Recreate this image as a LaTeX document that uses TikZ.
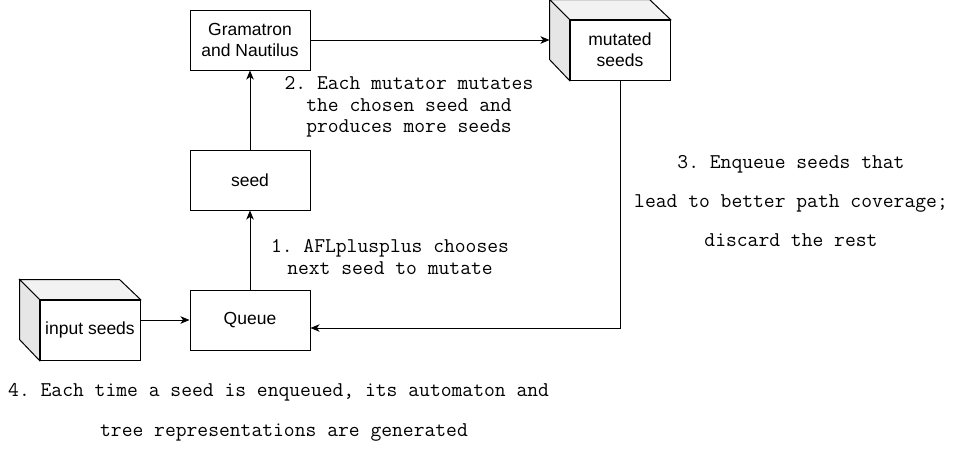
\documentclass[tikz,border=0pt]{standalone}
\usepackage{fontspec}
\setmainfont{Liberation Sans}
\usetikzlibrary{arrows.meta}
\definecolor{topgray}{HTML}{F2F2F2}
\definecolor{sidegray}{HTML}{E6E6E6}
\frenchspacing
\begin{document}
\begin{tikzpicture}[x=1pt,y=-1pt,
  box/.style={draw,line width=1pt,minimum width=120pt,minimum height=60pt,inner sep=0pt,align=center,font=\fontsize{17.5}{21}\selectfont},
  face/.style={draw,line width=1pt,minimum width=100pt,minimum height=60pt,inner sep=0pt,align=center,font=\fontsize{17.5}{21}\selectfont},
  lbl/.style={align=center,inner sep=0pt},
  arr/.style={line width=1pt,-{Stealth[length=9pt,width=7.5pt,inset=2.5pt]}},
  edge/.style={line width=1pt}]
\useasboundingbox (0,0) rectangle (961,461);
\fill[white] (0,0) rectangle (961,461);

% boxes
\node[box] (gn) at (250,40) {Gramatron\\and Nautilus};
\node[box] (sd) at (250,180) {seed};
\node[box] (q) at (250,320) {Queue};

% cube: input seeds
\node[face] (inp) at (90,330) {input seeds};
\filldraw[edge,fill=topgray] (inp.north west) -- ++(-20,-20) -- ++(100,0) -- (inp.north east) -- cycle;
\filldraw[edge,fill=sidegray] (inp.north west) -- ++(-20,-20) -- ++(0,60) -- (inp.south west) -- cycle;

% cube: mutated seeds
\node[face] (ms) at (620,50) {mutated\\seeds};
\filldraw[edge,fill=topgray] (ms.north west) -- ++(-20,-20) -- ++(100,0) -- (ms.north east) -- cycle;
\filldraw[edge,fill=sidegray] (ms.north west) -- ++(-20,-20) -- ++(0,60) -- (ms.south west) -- cycle;
\coordinate (msl) at ([xshift=-20pt]ms.west);
\coordinate (qin) at ([yshift=-8pt]q.east);

% connectors
\draw[arr] (gn.east) -- (gn.east -| msl);
\draw[arr] (sd.north) -- (gn.south);
\draw[arr] (q.north) -- (sd.south);
\draw[arr] (q.west -| inp.east) -- (q.west);
\draw[arr] (ms.south) |- (qin);

% labels
\node[lbl,font=\ttfamily\fontsize{21}{22}\selectfont] (l1) at (390,257) {1. AFLplusplus chooses\\next seed to mutate};
\node[lbl,font=\ttfamily\fontsize{21}{21.5}\selectfont] (l2) at (409,107) {2. Each mutator mutates\\the chosen seed and\\produces more seeds};
\node[lbl,font=\ttfamily\fontsize{21}{39}\selectfont] (l3) at (791,201) {3. Enqueue seeds that\\lead to better path coverage;\\discard the rest};
\node[lbl,font=\ttfamily\fontsize{21}{40}\selectfont] (l4) at (284,412) {4. Each time a seed is enqueued, its automaton and\hphantom{x}\\tree representations are generated};
\end{tikzpicture}
\end{document}
